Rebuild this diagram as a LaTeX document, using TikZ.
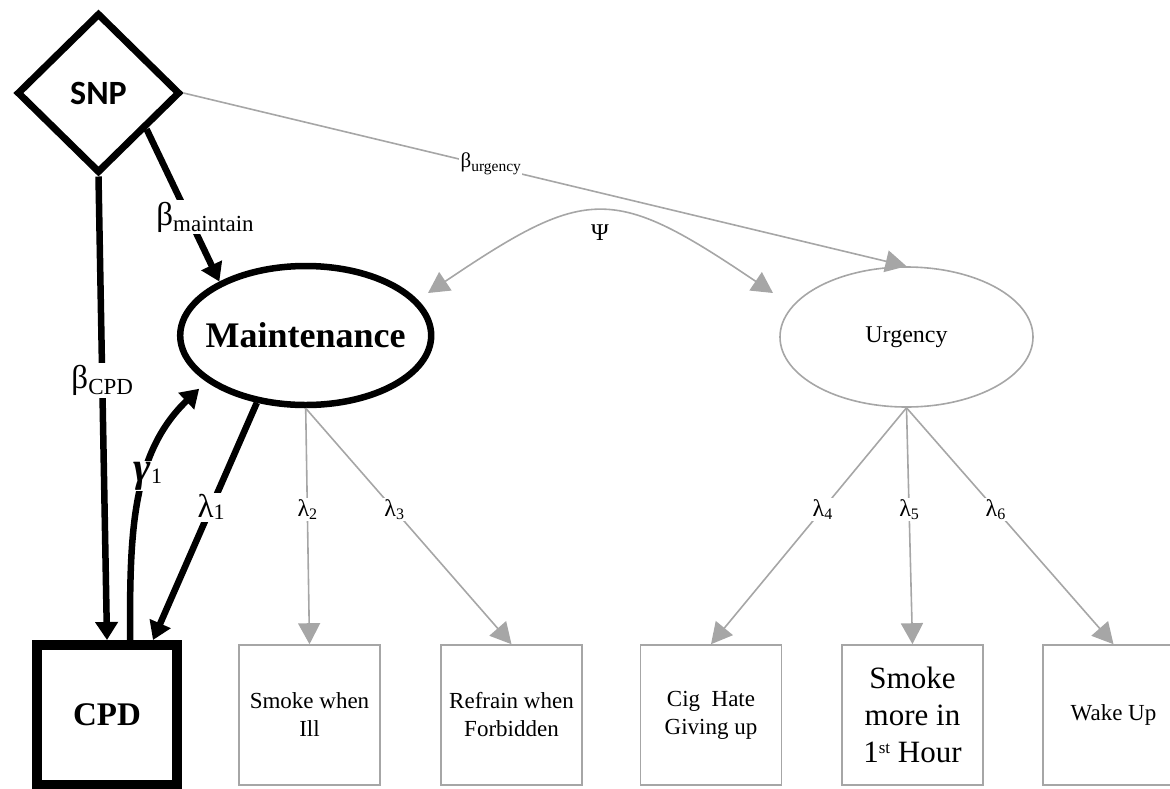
\documentclass[tikz,border=0pt]{standalone}
\usepackage{fontspec}
\setmainfont{Liberation Serif}
\newfontfamily\carlito{Carlito}
\usetikzlibrary{shapes.geometric,arrows.meta,calc}
\definecolor{lgray}{HTML}{A6A6A6}
\newcommand{\fsz}[1]{\fontsize{#1}{#1}\selectfont}
\newcommand{\symsub}[5]{{\fontsize{#1}{#1}\selectfont #2}\raisebox{-#5pt}{\fontsize{#3}{#3}\selectfont #4}}
\begin{document}
\begin{tikzpicture}[x=1pt,y=-1pt,
  btip/.tip={Triangle[length=18pt,width=22pt]},
  gtip/.tip={Triangle[length=21pt,width=22pt]},
  blk/.style={draw=black, line width=6.5pt, -btip},
  gry/.style={draw=lgray, line width=1.6pt, -gtip},
  obsbox/.style={draw=lgray, line width=1.6pt, minimum width=141pt, minimum height=140pt,
    inner sep=0pt, align=center, font=\fontsize{23}{28}\selectfont},
  lbl/.style={fill=white, inner sep=2pt},
  glbl/.style={fill=white, inner sep=1.5pt},
]
\useasboundingbox (0,0) rectangle (1170,788);

% nodes
\node[diamond, draw, line width=7pt, minimum width=163pt, minimum height=160pt,
      inner sep=0pt, font=\carlito\bfseries\fsz{34}] (snp) at (98.5,93) {\makebox[0pt]{SNP}};
\node[ellipse, draw, line width=6.5pt, minimum width=251pt, minimum height=139pt,
      inner sep=0pt, font=\bfseries\fsz{36}] (maint) at (305.7,335.5) {\makebox[0pt]{Maintenance}};
\node[ellipse, draw=lgray, line width=1.6pt, minimum width=253pt, minimum height=140pt,
      inner sep=0pt, font=\fsz{24}] (urg) at (906.5,337) {\makebox[0pt]{Urgency}};
\node[draw, line width=10pt, minimum width=140pt, minimum height=140pt, inner sep=0pt,
      font=\bfseries\fsz{33}] (cpd) at (107,715) {CPD};

\node[obsbox] (b1) at (309.5,715) {Smoke when\\Ill};
\node[obsbox] (b2) at (511.5,715) {Refrain when\\Forbidden};
\node[obsbox] (b3) at (711,715) {Cig\ \ Hate\\Giving up};
\node[obsbox, font=\fontsize{31}{37}\selectfont] (b4) at (912.5,715) {Smoke\\more in\\1\raisebox{9pt}{\fsz{17}st} Hour};
\node[obsbox] (b5) at (1113.5,715) {Wake Up};

\coordinate (psiL) at (428,293);
\coordinate (psiR) at (773,293);

% structural paths
\draw[blk] (snp.south) -- (cpd.north)
  node[lbl, pos=0.44] (bcpd) {\symsub{33}{β}{23}{CPD}{6}};
\draw[blk] (snp.-37) -- (maint.148);
\node[lbl] (bmaint) at (205,217) {\symsub{33}{β}{23}{maintain}{6}};
\draw[gry] (snp.east) -- (urg.north)
  node[glbl, pos=0.425, yshift=3pt] (burg) {\symsub{21}{β}{15.5}{urgency}{4}};

% covariance
\draw[gry, gtip-gtip] (psiL) .. controls (588,185) and (613,185) .. (psiR);
\node (psi) at (600,233) {\fsz{24}Ψ};

% gamma and lambda1
\draw[blk, shorten >=10pt] ($(cpd.north)+(23,0)$) .. controls (130,538) and (130,455) .. (maint.205);
\node[lbl, inner sep=1pt] (g1) at (148,476) {{\bfseries\itshape\fsz{42}γ}\raisebox{-2pt}{\fsz{22}1}};
\draw[blk] (maint.234) -- ($(cpd.north)+(46,0)$)
  node[lbl, pos=0.44] (l1) {\symsub{33}{λ}{22}{1}{2}};

% loadings
\draw[gry] (maint.south) -- (b1.north) node[glbl, pos=0.43] (l2) {\symsub{24}{λ}{16}{2}{3}};
\draw[gry] (maint.south) -- (b2.north) node[glbl, pos=0.43] (l3) {\symsub{24}{λ}{16}{3}{3}};
\draw[gry] (urg.south) -- (b3.north) node[glbl, pos=0.43] (l4) {\symsub{24}{λ}{16}{4}{3}};
\draw[gry] (urg.south) -- (b4.north) node[glbl, pos=0.43] (l5) {\symsub{24}{λ}{16}{5}{3}};
\draw[gry] (urg.south) -- (b5.north) node[glbl, pos=0.43] (l6) {\symsub{24}{λ}{16}{6}{3}};
\end{tikzpicture}
\end{document}
